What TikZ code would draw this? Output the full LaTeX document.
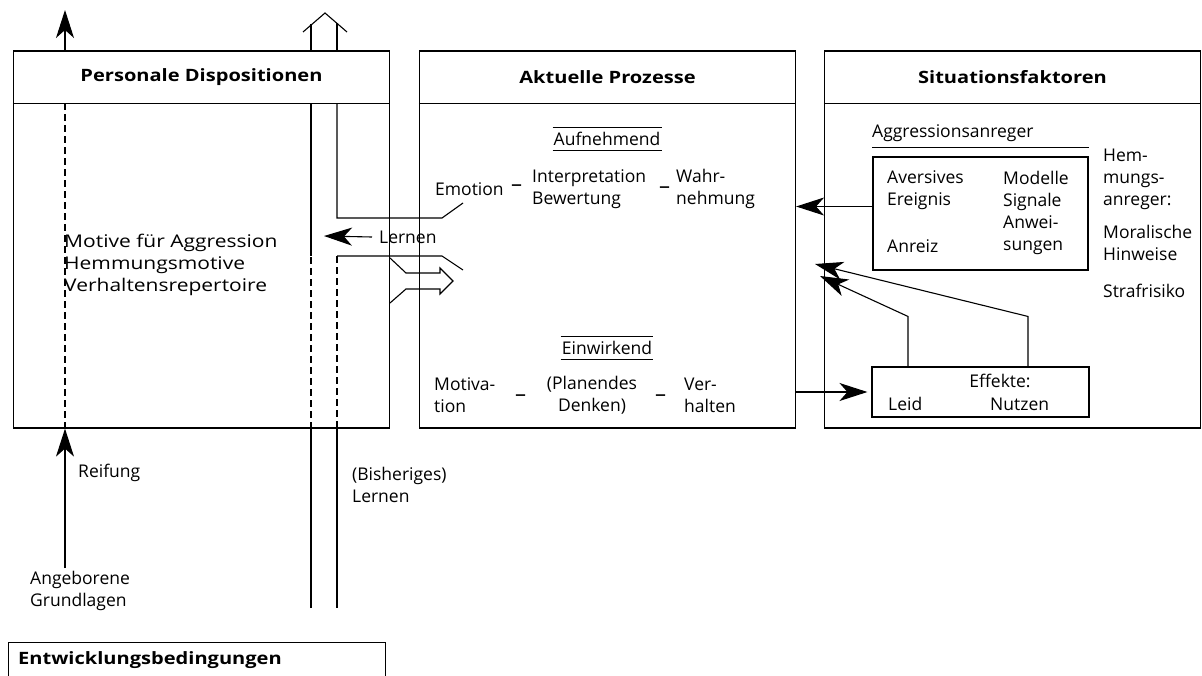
\documentclass[tikz,border=0pt]{standalone}
\usepackage{fontspec}
\setmainfont{Open Sans}
\newfontfamily\hdfont[FakeStretch=1.18]{Open Sans}
\newfontfamily\widefont[FakeStretch=1.2]{Open Sans}
\usepackage{tikz}
\usetikzlibrary{arrows.meta, positioning, calc}

\begin{document}
\begin{tikzpicture}[
    x=1pt, y=-1pt,
    panel/.style={
        rectangle,
        draw,
        line width=1.2pt,
        minimum width=376pt,
        minimum height=377pt,
        inner sep=0pt
    },
    innerbox/.style={rectangle, draw, line width=1.1pt, inner sep=0pt},
    head/.style={font=\hdfont\fontsize{17}{20}\selectfont\bfseries, inner sep=0pt},
    txt/.style={font=\fontsize{17.5}{22}\selectfont, align=left, inner sep=0pt, anchor=west},
    widetxt/.style={txt, font=\widefont\fontsize{17.5}{22}\selectfont},
    dashtxt/.style={txt, font=\fontsize{22}{22}\selectfont},
    ruled/.style={font=\fontsize{17.5}{20}\selectfont, inner xsep=1pt, inner ysep=5pt, text height=12.5pt, text depth=0pt},
    arrow/.style={-{Stealth[length=28pt, width=18pt, inset=8pt]}, line width=1.1pt},
    wire/.style={line width=1.1pt},
    dashline/.style={line width=1.1pt, dash pattern=on 7pt off 4pt}
]

\useasboundingbox (0,0) rectangle (1202,675);

\node[panel] (pd) at (201.5,239.5) {};
\node[panel] (ap) at (607.5,239.5) {};
\node[panel] (sf) at (1012.5,239.5) {};

\foreach \b in {pd, ap, sf}
    \draw[wire] ([yshift=-53pt]\b.north west) -- ([yshift=-53pt]\b.north east);
\coordinate (pdhl) at ([yshift=-53pt]pd.north west);

\node[head] (pdh) at ([yshift=-27pt]pd.north) {Personale Dispositionen};
\node[head] (aph) at ([yshift=-27pt]ap.north) {Aktuelle Prozesse};
\node[head] (sfh) at ([yshift=-27pt]sf.north) {Situationsfaktoren};

\node[widetxt] (motive) at (64,265) {Motive für Aggression\\Hemmungsmotive\\Verhaltensrepertoire};

% aufnehmend
\node[ruled] (auf) at (607,139) {Aufnehmend};
\draw[wire, line width=0.9pt] (auf.north west) -- (auf.north east) (auf.south west) -- (auf.south east);
\node[txt] (emo) at (435,189) {Emotion};
\node[dashtxt] (dash1) at (511,188) {–};
\node[txt] (interp) at (532,189) {Interpretation\\Bewertung};
\node[dashtxt] (dash2) at (659,190) {–};
\node[txt] (wahr) at (676,189) {Wahr-\\nehmung};

% einwirkend
\node[ruled] (einw) at (607,348) {Einwirkend};
\draw[wire, line width=0.9pt] (einw.north west) -- (einw.north east) (einw.south west) -- (einw.south east);
\node[txt] (motiv) at (434,395) {Motiva-\\tion};
\node[dashtxt] (dash3) at (515,398) {–};
\node[txt, align=center, anchor=center] (plan) at (592,395) {(Planendes\\Denken)};
\node[dashtxt] (dash4) at (655,398) {–};
\node[txt] (verh) at (684,395) {Ver-\\halten};

% lernen band
\coordinate (bandTopIn) at (463,203);
\coordinate (bandTopKnee) at (442,218);
\coordinate (bandTopCorner) at (337,218);
\coordinate (bandBotOut) at (463,270);
\coordinate (bandBotKnee) at (442,256);
\coordinate (bandBotCorner) at (337,256);
\coordinate (bisA) at (311,608);
\coordinate (bisB) at (337,608);

\draw[wire] (bandTopIn) -- (bandTopKnee) -- (bandTopCorner) -- (bandTopCorner |- pdhl);
\draw[wire] (bandBotOut) -- (bandBotKnee) -- (bandBotCorner);
\draw[dashline] (bandBotCorner) -- (bandBotCorner |- pd.south);
\draw[wire] (bisB |- pd.south) -- (bisB);
\draw[wire] (bisA) -- (bisA |- pd.south);
\draw[dashline] (bisA |- pd.south) -- (bisA |- bandBotCorner);
\draw[wire] (bisA |- bandBotCorner) -- (bisA |- pdhl);
\draw[wire] (bisA |- pd.north) -- ++(0,-26);
\draw[wire] (bisB |- pd.north) -- ++(0,-27);
\draw[wire] (303,32) -- (325,13) -- (347,32);

\node[txt] (lern) at (379,237) {Lernen};
\coordinate (lernTip) at (324,236);
\draw[arrow] ([xshift=-7pt]lern.west) -- (lernTip);

\draw[wire] (390,258) -- (406,273) -- (440,273) -- (440,268) -- (453,281)
    -- (440,294) -- (440,289) -- (406,289) -- (390,303);

% reifung
\coordinate (reifTop) at (65,10);
\coordinate (reifBot) at (65,568);
\draw[arrow] (reifTop |- pd.north) -- (reifTop);
\draw[dashline] (reifTop |- pdhl) -- (reifTop |- pd.south);
\draw[arrow] (reifBot) -- (reifBot |- pd.south);

% situationsfaktoren
\node[txt] (aggr) at (872,133) {Aggressionsanreger};
\node[innerbox, minimum width=215pt, minimum height=113pt] (anr) at (980.5,213.5) {};
\draw[wire, line width=0.9pt] ([yshift=-6pt]aggr.south west) -- ([yshift=-6pt]aggr.south west -| anr.east);
\node[txt] (avers) at (887,190) {Aversives\\Ereignis};
\node[txt] (anreiz) at (887,246) {Anreiz};
\node[txt] (modelle) at (1003,213) {Modelle\\Signale\\Anwei-\\sungen};
\node[txt] (hemm) at (1103,179.5) {Hem-\\mungs-\\anreger:};
\node[txt] (moral) at (1103,243) {Moralische\\Hinweise};
\node[txt] (straf) at (1103,291) {Strafrisiko};

\node[innerbox, minimum width=217pt, minimum height=50pt] (eff) at (980.5,392) {};
\node[txt, anchor=center] (effk) at (1000,381) {Effekte:};
\node[txt] (leid) at (888,404) {Leid};
\node[txt] (nutz) at (990,404) {Nutzen};

\coordinate (tipLeid) at (820,276);
\coordinate (tipNutz) at (815,264);
\draw[arrow] ([yshift=7pt]anr.west) -- ([yshift=7pt]anr.west -| ap.east);
\draw[arrow] (eff.west -| ap.east) -- ([xshift=-4pt]eff.west);
\draw[arrow] ([xshift=-72.5pt]eff.north) -- ++(0,-50) -- (tipLeid);
\draw[arrow] ([xshift=47.5pt]eff.north) -- ++(0,-50) -- (tipNutz);

% bottom
\node[txt] (reif) at (78,473) {Reifung};
\node[txt] (angeb) at (30,591) {Angeborene\\Grundlagen};
\node[txt] (bish) at (352,485) {(Bisheriges)\\Lernen};

\node[draw, line width=1.1pt, anchor=north west, minimum width=377pt, minimum height=50pt, inner sep=0pt] (ent) at (8,642) {};
\node[head, anchor=west] (entt) at ([xshift=10pt, yshift=-18pt]ent.north west) {Entwicklungsbedingungen};

\end{tikzpicture}
\end{document}
